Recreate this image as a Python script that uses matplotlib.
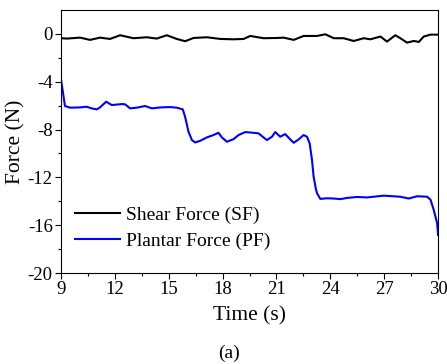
import numpy as np
from matplotlib import pyplot as plt

plt.rcParams['font.family'] = ['Liberation Serif', 'DejaVu Serif']
plt.rcParams['axes.unicode_minus'] = False

# Shear force (SF)
sf_t = [9.04, 9.32, 10.06, 10.62, 11.17, 11.73, 12.29, 13.03, 13.78, 14.33,
        14.89, 15.45, 15.91, 16.38, 17.12, 17.87, 18.61, 19.17, 19.54, 20.28,
        21.03, 21.40, 21.96, 22.51, 23.26, 23.72, 24.19, 24.74, 25.30, 25.86,
        26.23, 26.79, 27.16, 27.62, 27.90, 28.27, 28.65, 28.93, 29.20, 29.58, 30.0]
sf_f = [-0.36, -0.39, -0.31, -0.50, -0.31, -0.42, -0.11, -0.36, -0.28, -0.39,
        -0.11, -0.42, -0.61, -0.34, -0.28, -0.42, -0.45, -0.42, -0.17, -0.36,
        -0.34, -0.31, -0.50, -0.17, -0.17, -0.03, -0.36, -0.36, -0.59, -0.36,
        -0.45, -0.22, -0.64, -0.11, -0.36, -0.73, -0.59, -0.67, -0.22, -0.06, -0.06]

# Plantar force (PF)
pf_t = [9.0, 9.22, 9.50, 10.06, 10.43, 10.71, 10.99, 11.17, 11.51, 11.83,
        12.38, 12.57, 12.85, 13.22, 13.68, 14.06, 14.52, 15.08, 15.45, 15.78,
        15.91, 16.10, 16.29, 16.47, 16.75, 17.12, 17.49, 17.77, 17.96, 18.24,
        18.61, 18.89, 19.26, 19.72, 20.0, 20.28, 20.47, 20.75, 20.93, 21.21,
        21.49, 21.77, 21.96, 22.23, 22.51, 22.70, 22.85, 22.98, 23.07, 23.2,
        23.26, 23.44, 23.81, 24.19, 24.56, 24.93, 25.49, 26.04, 26.97, 27.90,
        28.37, 28.83, 29.39, 29.58, 29.76, 29.95, 30.0]
pf_f = [-3.80, -6.03, -6.17, -6.15, -6.09, -6.23, -6.31, -6.15, -5.67, -5.95,
        -5.87, -5.89, -6.23, -6.17, -6.03, -6.23, -6.15, -6.12, -6.17, -6.31,
        -6.93, -8.18, -8.88, -9.08, -8.94, -8.66, -8.46, -8.27, -8.66, -9.02,
        -8.80, -8.46, -8.21, -8.27, -8.32, -8.66, -8.88, -8.60, -8.21, -8.60,
        -8.38, -8.83, -9.11, -8.83, -8.46, -8.60, -9.16, -10.56, -11.96, -13.0,
        -13.33, -13.80, -13.75, -13.77, -13.82, -13.72, -13.64, -13.68, -13.53, -13.62,
        -13.77, -13.58, -13.62, -13.87, -14.73, -15.85, -16.82]

xticks = [9, 12, 15, 18, 21, 24, 27, 30]
yticks = [0, -4, -8, -12, -16, -20]

fig = plt.figure(figsize=(4.47, 3.64), dpi=100)
ax = fig.add_axes([0.1365, 0.25, 0.8435, 0.7225])

ax.plot(sf_t, sf_f, color='black', lw=1.5, label='Shear Force (SF)', solid_joinstyle='round')
ax.plot(pf_t, pf_f, color='#0000ff', lw=1.5, label='Plantar Force (PF)', solid_joinstyle='round')

ax.set_xlim(9, 30)
ax.set_ylim(-20, 2)
ax.set_xticks(xticks)
ax.set_yticks(yticks)
ax.set_xticks(np.arange(10.5, 30, 3), minor=True)
ax.set_yticks(np.arange(-18, 2, 4), minor=True)
ax.tick_params(which='major', direction='out', length=4, width=0.8, labelsize=13.5, pad=2)
ax.tick_params(which='minor', direction='out', length=2, width=0.8)
for s in ax.spines.values():
    s.set_linewidth(0.8)

ax.set_xlabel('Time (s)', fontsize=15.5, labelpad=6)
ax.set_ylabel('Force (N)', fontsize=15.5)
ax.yaxis.set_label_coords(-0.093, 0.5)

ax.legend(loc='lower left', bbox_to_anchor=(-0.008, 0.02), frameon=False, fontsize=14,
          handlelength=2.3, handletextpad=0.3, labelspacing=0.45)

fig.text(0.513, 0.03, '(a)', ha='center', va='center', fontsize=14)

fig.savefig('out.png')
